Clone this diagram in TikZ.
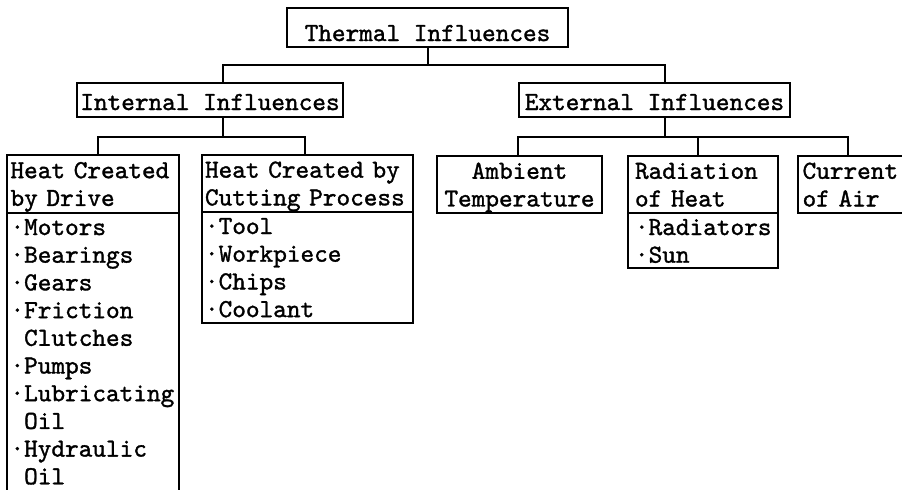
\documentclass[tikz,border=0pt]{standalone}
\usepackage{fontspec}
\usepackage{tikz}
\usetikzlibrary{positioning}

\newfontfamily\boxfont{lmmono10-regular.otf}[FakeBold=1.3]
\newcommand{\bul}{\textperiodcentered}
\newcommand{\bulsp}{\phantom{\textperiodcentered}}
\newcommand{\topstrut}{\rule{0pt}{11pt}}
\newcommand{\botstrut}{\rule[-2.85pt]{0pt}{2.85pt}}

\tikzset{
  box/.style={draw, line width=1pt, outer sep=0pt, inner ysep=0pt, anchor=north west,
    font=\boxfont\fontsize{13}{13.85}\selectfont,
    execute at begin node=\topstrut, execute at end node=\botstrut},
  link/.style={line width=1pt}
}

\begin{document}
\begin{tikzpicture}[x=1pt, y=1pt]
    \useasboundingbox (0,0) rectangle (451,-244.5);

    % top level
    \node [box, minimum width=140.5, minimum height=19.5, inner xsep=2pt, text height=14.5pt, text depth=1pt] (therm) at (143.5,-4) {Thermal Influences};

    % second level
    \node [box, minimum width=133, minimum height=17, inner xsep=1.5pt, text height=12pt, text depth=2pt] (intl) at (38.5,-41.5) {Internal Influences};
    \node [box, minimum width=135.5, minimum height=17, inner xsep=1.5pt, text height=12pt, text depth=2pt] (extl) at (259.5,-41.5) {External Influences};

    % internal sources
    \node [box, text width=82.5, inner xsep=1.75pt, minimum height=29, align=left] (drive) at (3.5,-77.5) {Heat Created\\by Drive};
    \node [box, text width=82.5, inner xsep=1.75pt, align=left, below right=0pt and 0pt of drive.south west,
        execute at end node={\rule[-8pt]{0pt}{8pt}}] (drivelist)
        {\bul Motors\\\bul Bearings\\\bul Gears\\\bul Friction\\\bulsp Clutches\\\bul Pumps\\\bul Lubricating\\\bulsp Oil\\\bul Hydraulic\\\bulsp Oil};
    \node [box, text width=102.5, inner xsep=1.5pt, minimum height=28.5, align=left] (cut) at (101,-77.5) {Heat Created by\\Cutting Process};
    \node [box, text width=102.5, inner xsep=1.5pt, align=left, below right=0pt and 0pt of cut.south west] (cutlist)
        {\bul Tool\\\bul Workpiece\\\bul Chips\\\bul Coolant};

    % external sources
    \node [box, text width=78, inner xsep=2.25pt, minimum height=28.5, align=center] (amb) at (218.5,-78) {Ambient\\Temperature};
    \node [box, text width=68, inner xsep=3.5pt, minimum height=28.5, align=left] (rad) at (314,-78) {Radiation\\of Heat};
    \node [box, text width=68, inner xsep=3.5pt, align=left, below right=0pt and 0pt of rad.south west] (radlist)
        {\bul Radiators\\\bul Sun};
    \node [box, text width=51.4, inner xsep=2.3pt, minimum height=28.5, align=left] (curr) at (399,-78) {Current\\of Air};

    % connectors
    \coordinate (bus1) at (0,-32.5);
    \coordinate (bus2) at (0,-68.5);
    \draw [link] (therm.south) -- (therm.south |- bus1);
    \draw [link] ([xshift=6.5pt]intl.north) |- (therm.south |- bus1) -| ([xshift=5.25pt]extl.north);

    \draw [link] ([xshift=6.5pt]intl.south) -- ([xshift=6.5pt]intl.south |- bus2);
    \draw [link] ([xshift=2.5pt]drive.north) |- ([xshift=6.5pt]intl.south |- bus2) -| ([xshift=-1.25pt]cut.north);

    \draw [link] ([xshift=5.25pt]extl.south) -- ([xshift=5.25pt]extl.south |- bus2);
    \draw [link] ([xshift=-0.75pt]amb.north) |- ([xshift=5.25pt]extl.south |- bus2) -| ([xshift=-3pt]curr.north);
    \draw [link] ([xshift=-2.5pt]rad.north) -- ([xshift=-2.5pt]rad.north |- bus2);
\end{tikzpicture}
\end{document}
